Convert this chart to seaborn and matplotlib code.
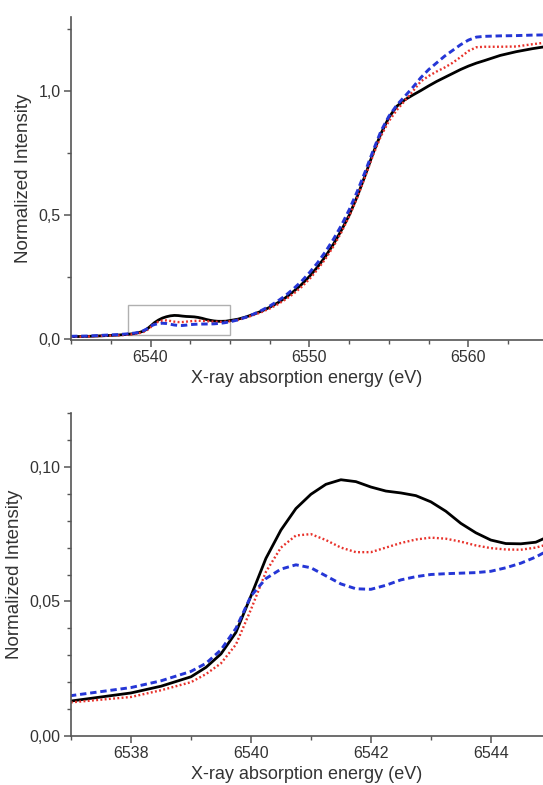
import numpy as np
import pandas as pd
import seaborn as sns
import matplotlib.pyplot as plt
from matplotlib.ticker import MultipleLocator, FuncFormatter
from matplotlib.patches import Rectangle

energy = [6535, 6536, 6537, 6537.5, 6538, 6538.5, 6539, 6539.25, 6539.5, 6539.75,
          6540, 6540.25, 6540.5, 6540.75, 6541, 6541.25, 6541.5, 6541.75, 6542, 6542.25,
          6542.5, 6542.75, 6543, 6543.25, 6543.5, 6543.75, 6544, 6544.25, 6544.5, 6544.75,
          6545, 6545.5, 6546, 6546.5, 6547, 6547.5, 6548, 6548.5, 6549, 6549.5,
          6550, 6550.5, 6551, 6551.5, 6552, 6552.5, 6553, 6553.5, 6554, 6554.5,
          6555, 6555.5, 6556, 6556.5, 6557, 6557.5, 6558, 6558.5, 6559, 6559.5,
          6560, 6560.5, 6561, 6562, 6563, 6564, 6565]

black = [0.0095, 0.0105, 0.0130, 0.0145, 0.0160, 0.0185, 0.0220, 0.0255, 0.0305, 0.0385,
         0.0520, 0.0660, 0.0765, 0.0845, 0.0898, 0.0935, 0.0952, 0.0945, 0.0925, 0.0910,
         0.0903, 0.0893, 0.0870, 0.0835, 0.0790, 0.0755, 0.0728, 0.0715, 0.0714, 0.0720,
         0.0745, 0.080, 0.089, 0.100, 0.113, 0.128, 0.146, 0.167, 0.192, 0.220,
         0.253, 0.290, 0.333, 0.382, 0.438, 0.500, 0.575, 0.660, 0.750, 0.830,
         0.895, 0.940, 0.966, 0.985, 1.003, 1.022, 1.040, 1.056, 1.072, 1.088,
         1.102, 1.114, 1.124, 1.145, 1.160, 1.172, 1.182]

red = [0.0085, 0.0098, 0.0125, 0.0135, 0.0145, 0.0170, 0.0200, 0.0230, 0.0270, 0.0340,
       0.0470, 0.0610, 0.0700, 0.0745, 0.0750, 0.0728, 0.0700, 0.0683, 0.0683, 0.0700,
       0.0717, 0.0730, 0.0737, 0.0733, 0.0722, 0.0708, 0.0698, 0.0693, 0.0692, 0.0700,
       0.0715, 0.077, 0.086, 0.097, 0.109, 0.123, 0.140, 0.160, 0.183, 0.210,
       0.242, 0.280, 0.323, 0.373, 0.430, 0.495, 0.570, 0.655, 0.742, 0.820,
       0.880, 0.925, 0.962, 1.000, 1.040, 1.062, 1.080, 1.096, 1.115, 1.138,
       1.163, 1.178, 1.180, 1.180, 1.181, 1.190, 1.198]

blue = [0.0110, 0.0120, 0.0150, 0.0165, 0.0180, 0.0205, 0.0240, 0.0270, 0.0320, 0.0400,
        0.0520, 0.0585, 0.0620, 0.0636, 0.0625, 0.0595, 0.0565, 0.0547, 0.0545, 0.0560,
        0.0580, 0.0592, 0.0600, 0.0603, 0.0605, 0.0607, 0.0612, 0.0625, 0.0642, 0.0665,
        0.0695, 0.077, 0.088, 0.101, 0.116, 0.133, 0.153, 0.176, 0.203, 0.233,
        0.268, 0.307, 0.352, 0.402, 0.458, 0.522, 0.595, 0.675, 0.760, 0.840,
        0.900, 0.945, 0.980, 1.016, 1.055, 1.088, 1.115, 1.142, 1.165, 1.188,
        1.207, 1.219, 1.222, 1.224, 1.225, 1.227, 1.228]

df = pd.DataFrame({"energy": energy, "black": black, "red": red, "blue": blue})

sns.set_theme(style="ticks")
plt.rcParams['font.family'] = ['Liberation Sans', 'DejaVu Sans']
txt = "#333333"

fig = plt.figure(figsize=(5.43, 7.85), dpi=100)
ax1 = fig.add_axes([0.1308, 0.5669, 0.8692, 0.4114])
ax2 = fig.add_axes([0.1308, 0.0624, 0.8692, 0.4115])


def draw(ax):
    sns.lineplot(data=df, x="energy", y="black", ax=ax, color="black", lw=2.0)
    sns.lineplot(data=df, x="energy", y="red", ax=ax, color="#e8322b", lw=1.7,
                 linestyle=(0, (0.8, 1.0)))
    sns.lineplot(data=df, x="energy", y="blue", ax=ax, color="#2536d6", lw=2.1,
                 linestyle=(0, (2.2, 1.3)))


draw(ax1)
draw(ax2)

# zoom window marker
ax1.add_patch(Rectangle((6538.6, 0.015), 6.4, 0.122, fill=False,
                        edgecolor="#b0b0b0", lw=1.0, zorder=1))

ax1.set_xlim(6535, 6564.69)
ax1.set_ylim(-0.004, 1.3)
ax1.xaxis.set_major_locator(MultipleLocator(10))
ax1.xaxis.set_minor_locator(MultipleLocator(2.5))
ax1.yaxis.set_major_locator(MultipleLocator(0.5))
ax1.yaxis.set_minor_locator(MultipleLocator(0.25))
ax1.yaxis.set_major_formatter(FuncFormatter(lambda v, p: f"{v:.1f}".replace(".", ",")))

ax2.set_xlim(6537, 6544.87)
ax2.set_ylim(0, 0.12)
ax2.xaxis.set_major_locator(MultipleLocator(2))
ax2.xaxis.set_minor_locator(MultipleLocator(1))
ax2.yaxis.set_major_locator(MultipleLocator(0.05))
ax2.yaxis.set_minor_locator(MultipleLocator(0.01))
ax2.yaxis.set_major_formatter(FuncFormatter(lambda v, p: f"{v:.2f}".replace(".", ",")))

for ax in (ax1, ax2):
    sns.despine(ax=ax)
    for s in ("left", "bottom"):
        ax.spines[s].set_color("#555555")
        ax.spines[s].set_linewidth(1.2)
    ax.tick_params(which="major", direction="out", length=5, width=1.1,
                   color="#555555", labelsize=11.5, labelcolor=txt, pad=2.5)
    ax.tick_params(which="minor", direction="out", length=3, width=1.0, color="#555555")
    ax.set_xlabel("X-ray absorption energy (eV)", fontsize=13, color=txt, labelpad=3)
    ax.set_ylabel("Normalized Intensity", fontsize=13.5, color=txt, labelpad=5)

fig.savefig("out.png", dpi=100)
